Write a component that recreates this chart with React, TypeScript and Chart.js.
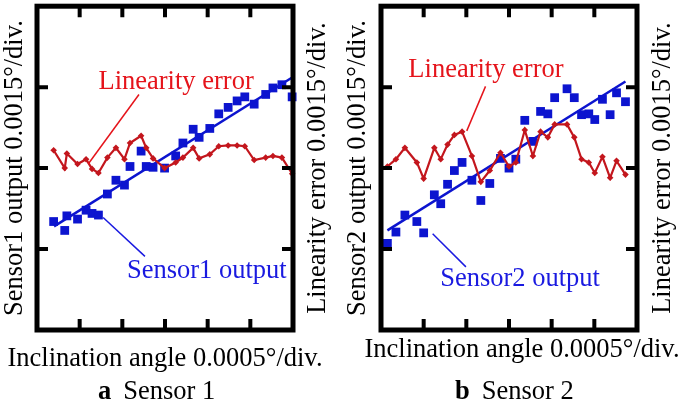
import { useEffect, useRef } from "react"
import { Chart, registerables } from "chart.js"

Chart.register(...registerables)

// values are in divisions (x: 0.0005°/div, y: 0.0015°/div)
const xRange = [0, 6]
const yRange = [0, 4]

// panel a: sensor 1
const xA = [0.39, 0.65, 0.7, 0.95, 1.15, 1.29, 1.44, 1.65, 1.85, 2.05, 2.18, 2.44, 2.56, 2.72, 2.99, 3.25, 3.42, 3.66, 3.8, 4.05, 4.26, 4.48, 4.69, 4.87, 5.09, 5.36, 5.53, 5.74, 5.98]
const sensorA = [1.34, 1.23, 1.41, 1.37, 1.48, 1.44, 1.42, 1.68, 1.85, 1.79, 2.02, 2.21, 2.02, 2.01, 2.0, 2.15, 2.31, 2.48, 2.38, 2.49, 2.67, 2.75, 2.83, 2.88, 2.79, 2.91, 2.99, 3.03, 2.88]
const errorA = [2.22, 2.0, 2.18, 2.05, 2.11, 1.99, 1.94, 2.13, 2.25, 2.11, 2.31, 2.4, 2.25, 2.12, 2.0, 2.07, 2.13, 2.25, 2.12, 2.17, 2.27, 2.28, 2.28, 2.27, 2.1, 2.13, 2.15, 2.13, 1.93]
const fitAX = [0.4, 5.98]
const fitAY = [1.28, 3.12]

// panel b: sensor 2
const xB = [0.15, 0.35, 0.56, 0.84, 1.0, 1.25, 1.4, 1.56, 1.72, 1.9, 2.13, 2.34, 2.55, 2.8, 3.0, 3.16, 3.37, 3.56, 3.74, 3.91, 4.07, 4.36, 4.53, 4.7, 4.87, 5.01, 5.19, 5.37, 5.52, 5.73]
const sensorB = [1.07, 1.21, 1.42, 1.34, 1.2, 1.67, 1.56, 1.8, 1.97, 2.07, 1.85, 1.6, 1.81, 2.12, 2.0, 2.11, 2.59, 2.33, 2.7, 2.67, 2.87, 2.98, 2.87, 2.66, 2.67, 2.6, 2.85, 2.66, 2.93, 2.82]
const errorB = [2.02, 2.11, 2.25, 2.07, 1.87, 2.25, 2.11, 2.29, 2.41, 2.45, 2.15, 1.83, 1.97, 2.19, 2.02, 2.07, 2.47, 2.15, 2.45, 2.38, 2.54, 2.54, 2.38, 2.11, 2.07, 1.94, 2.14, 1.88, 2.09, 1.92]
const fitBX = [0.15, 5.73]
const fitBY = [1.23, 3.07]

const FONT = "'Liberation Serif', 'Times New Roman', serif"
const SIZE = 26.5
const RED = "#c3161d"
const BLUE = "#0c14cf"
const RED_TEXT = "#e5141b"
const BLUE_TEXT = "#1a1ae0"

type Note = { text: string; color: string; at: number[]; from: number[]; to: number[] }

interface PanelProps {
  xs: number[]
  sensor: number[]
  error: number[]
  fitX: number[]
  fitY: number[]
  leftTitle: string
  rightTitle: string
  xTitle: string
  notes: Note[]
  left: number
  width: number
  height: number
  areaLeft: number
  areaRight: number
  leftPad: number
  xTitleDx: number
  xTitleBase: number
  rightTitleDx: number
}

function Panel(p: PanelProps) {
  const chartRef = useRef<HTMLCanvasElement>(null)
  const chartInstance = useRef<Chart | null>(null)

  useEffect(() => {
    if (!chartRef.current) return
    if (chartInstance.current) chartInstance.current.destroy()

    // frame with inward ticks
    const framePlugin = {
      id: "frame",
      afterDatasetsDraw(chart: any) {
        const { ctx, chartArea: a, scales } = chart
        ctx.save()
        ctx.strokeStyle = "#000"
        ctx.lineWidth = 4
        ctx.beginPath()
        scales.x.ticks.forEach((t: any) => {
          const px = scales.x.getPixelForValue(t.value)
          if (px <= a.left + 1 || px >= a.right - 1) return
          ctx.moveTo(px, a.bottom)
          ctx.lineTo(px, a.bottom - 11)
          ctx.moveTo(px, a.top)
          ctx.lineTo(px, a.top + 11)
        })
        scales.y.ticks.forEach((t: any) => {
          const py = scales.y.getPixelForValue(t.value)
          if (py <= a.top + 1 || py >= a.bottom - 1) return
          ctx.moveTo(a.left, py)
          ctx.lineTo(a.left + 11, py)
          ctx.moveTo(a.right, py)
          ctx.lineTo(a.right - 11, py)
        })
        ctx.stroke()
        ctx.lineWidth = 5
        ctx.strokeRect(a.left, a.top, a.right - a.left, a.bottom - a.top)
        ctx.restore()
      },
    }

    // x title and the right-hand title (reads bottom to top)
    const titlePlugin = {
      id: "sideTitles",
      afterDraw(chart: any) {
        const { ctx, chartArea: a } = chart
        ctx.save()
        ctx.fillStyle = "#000"
        ctx.font = `${SIZE}px ${FONT}`
        ctx.textAlign = "center"
        ctx.textBaseline = "alphabetic"
        ctx.fillText(p.xTitle, (a.left + a.right) / 2 + p.xTitleDx, p.xTitleBase)
        ctx.translate(a.right + p.rightTitleDx, (a.top + a.bottom) / 2)
        ctx.rotate(-Math.PI / 2)
        ctx.textBaseline = "middle"
        ctx.fillText(p.rightTitle, 0, 0)
        ctx.restore()
      },
    }

    // labels with leader lines
    const notesPlugin = {
      id: "notes",
      afterDraw(chart: any) {
        const { ctx, scales } = chart
        const px = (v: number) => scales.x.getPixelForValue(v)
        const py = (v: number) => scales.y.getPixelForValue(v)
        ctx.save()
        p.notes.forEach((n) => {
          ctx.strokeStyle = n.color
          ctx.lineWidth = 1.5
          ctx.beginPath()
          ctx.moveTo(px(n.from[0]), py(n.from[1]))
          ctx.lineTo(px(n.to[0]), py(n.to[1]))
          ctx.stroke()
          ctx.fillStyle = n.color
          ctx.font = `${SIZE}px ${FONT}`
          ctx.textAlign = "center"
          ctx.textBaseline = "alphabetic"
          ctx.fillText(n.text, px(n.at[0]), py(n.at[1]))
        })
        ctx.restore()
      },
    }

    const ctx = chartRef.current.getContext("2d")
    if (ctx) {
      chartInstance.current = new Chart(ctx, {
        type: "scatter",
        data: {
          datasets: [
            {
              type: "line",
              label: "Linearity error",
              data: p.xs.map((x, i) => ({ x, y: p.error[i] })),
              yAxisID: "y1",
              borderColor: RED,
              backgroundColor: RED,
              borderWidth: 2.2,
              pointStyle: "rectRot",
              pointRadius: 3.3,
              pointBorderWidth: 0,
              tension: 0,
              clip: false,
            },
            {
              type: "line",
              label: "Fit",
              data: p.fitX.map((x, i) => ({ x, y: p.fitY[i] })),
              yAxisID: "y",
              borderColor: BLUE,
              borderWidth: 2.5,
              pointRadius: 0,
            },
            {
              type: "scatter",
              label: "Sensor output",
              data: p.xs.map((x, i) => ({ x, y: p.sensor[i] })),
              yAxisID: "y",
              backgroundColor: BLUE,
              borderColor: BLUE,
              pointStyle: "rect",
              pointRadius: 6.2,
              pointBorderWidth: 0,
              clip: false,
            },
          ] as any,
        },
        options: {
          responsive: false,
          animation: false,
          events: [],
          layout: { padding: { top: 4, bottom: 0, left: 0, right: 0 } },
          plugins: {
            legend: { display: false },
            tooltip: { enabled: false },
          },
          scales: {
            x: {
              type: "linear",
              min: xRange[0],
              max: xRange[1],
              ticks: { display: false, stepSize: 1 },
              grid: { display: false },
              border: { display: false },
              afterFit: (s: any) => {
                s.height = p.height - 330
              },
            },
            y: {
              type: "linear",
              position: "left",
              min: yRange[0],
              max: yRange[1],
              ticks: { display: false, stepSize: 1 },
              grid: { display: false },
              border: { display: false },
              title: {
                display: true,
                text: p.leftTitle,
                color: "#000",
                font: { family: FONT, size: SIZE, lineHeight: 1.1 },
                padding: { top: p.leftPad, bottom: 0 },
              },
              afterFit: (s: any) => {
                s.width = p.areaLeft
              },
            },
            y1: {
              type: "linear",
              position: "right",
              min: yRange[0],
              max: yRange[1],
              ticks: { display: false, stepSize: 1 },
              grid: { display: false },
              border: { display: false },
              afterFit: (s: any) => {
                s.width = p.width - p.areaRight
              },
            },
          },
        } as any,
        plugins: [framePlugin, titlePlugin, notesPlugin],
      })
    }

    return () => {
      if (chartInstance.current) {
        chartInstance.current.destroy()
        chartInstance.current = null
      }
    }
  }, [])

  return (
    <canvas
      ref={chartRef}
      width={p.width}
      height={p.height}
      style={{ position: "absolute", left: p.left, top: 0, width: p.width, height: p.height }}
    />
  )
}

const captionStyle: any = {
  position: "absolute",
  top: 377,
  fontFamily: FONT,
  fontSize: SIZE,
  lineHeight: "27px",
  color: "#000",
  whiteSpace: "nowrap",
}

export default function App() {
  return (
    <div style={{ position: "absolute", left: 0, top: 0, width: 685, height: 409, background: "#fff", overflow: "hidden" }}>
      <Panel
        xs={xA}
        sensor={sensorA}
        error={errorA}
        fitX={fitAX}
        fitY={fitAY}
        leftTitle="Sensor1 output 0.0015°/div."
        rightTitle="Linearity error 0.0015°/div."
        xTitle="Inclination angle 0.0005°/div."
        notes={[
          { text: "Linearity error", color: RED_TEXT, at: [3.26, 2.98], from: [2.39, 2.91], to: [1.2, 2.05] },
          { text: "Sensor1 output", color: BLUE_TEXT, at: [3.98, 0.64], from: [1.55, 1.39], to: [2.53, 0.91] },
        ]}
        left={0}
        width={340}
        height={376}
        areaLeft={37}
        areaRight={293}
        leftPad={0.5}
        xTitleDx={0}
        xTitleBase={366}
        rightTitleDx={25}
      />
      <Panel
        xs={xB}
        sensor={sensorB}
        error={errorB}
        fitX={fitBX}
        fitY={fitBY}
        leftTitle="Sensor2 output 0.0015°/div."
        rightTitle="Linearity error 0.0015°/div."
        xTitle="Inclination angle 0.0005°/div."
        notes={[
          { text: "Linearity error", color: RED_TEXT, at: [2.46, 3.13], from: [2.45, 3.01], to: [2.01, 2.46] },
          { text: "Sensor2 output", color: BLUE_TEXT, at: [3.26, 0.54], from: [1.21, 1.19], to: [1.99, 0.78] },
        ]}
        left={340}
        width={345}
        height={376}
        areaLeft={41}
        areaRight={297}
        leftPad={3.5}
        xTitleDx={13}
        xTitleBase={357}
        rightTitleDx={26}
      />
      <div style={{ ...captionStyle, left: 98 }}>
        <b style={{ marginRight: 12 }}>a</b>Sensor 1
      </div>
      <div style={{ ...captionStyle, left: 455 }}>
        <b style={{ marginRight: 12 }}>b</b>Sensor 2
      </div>
    </div>
  )
}
